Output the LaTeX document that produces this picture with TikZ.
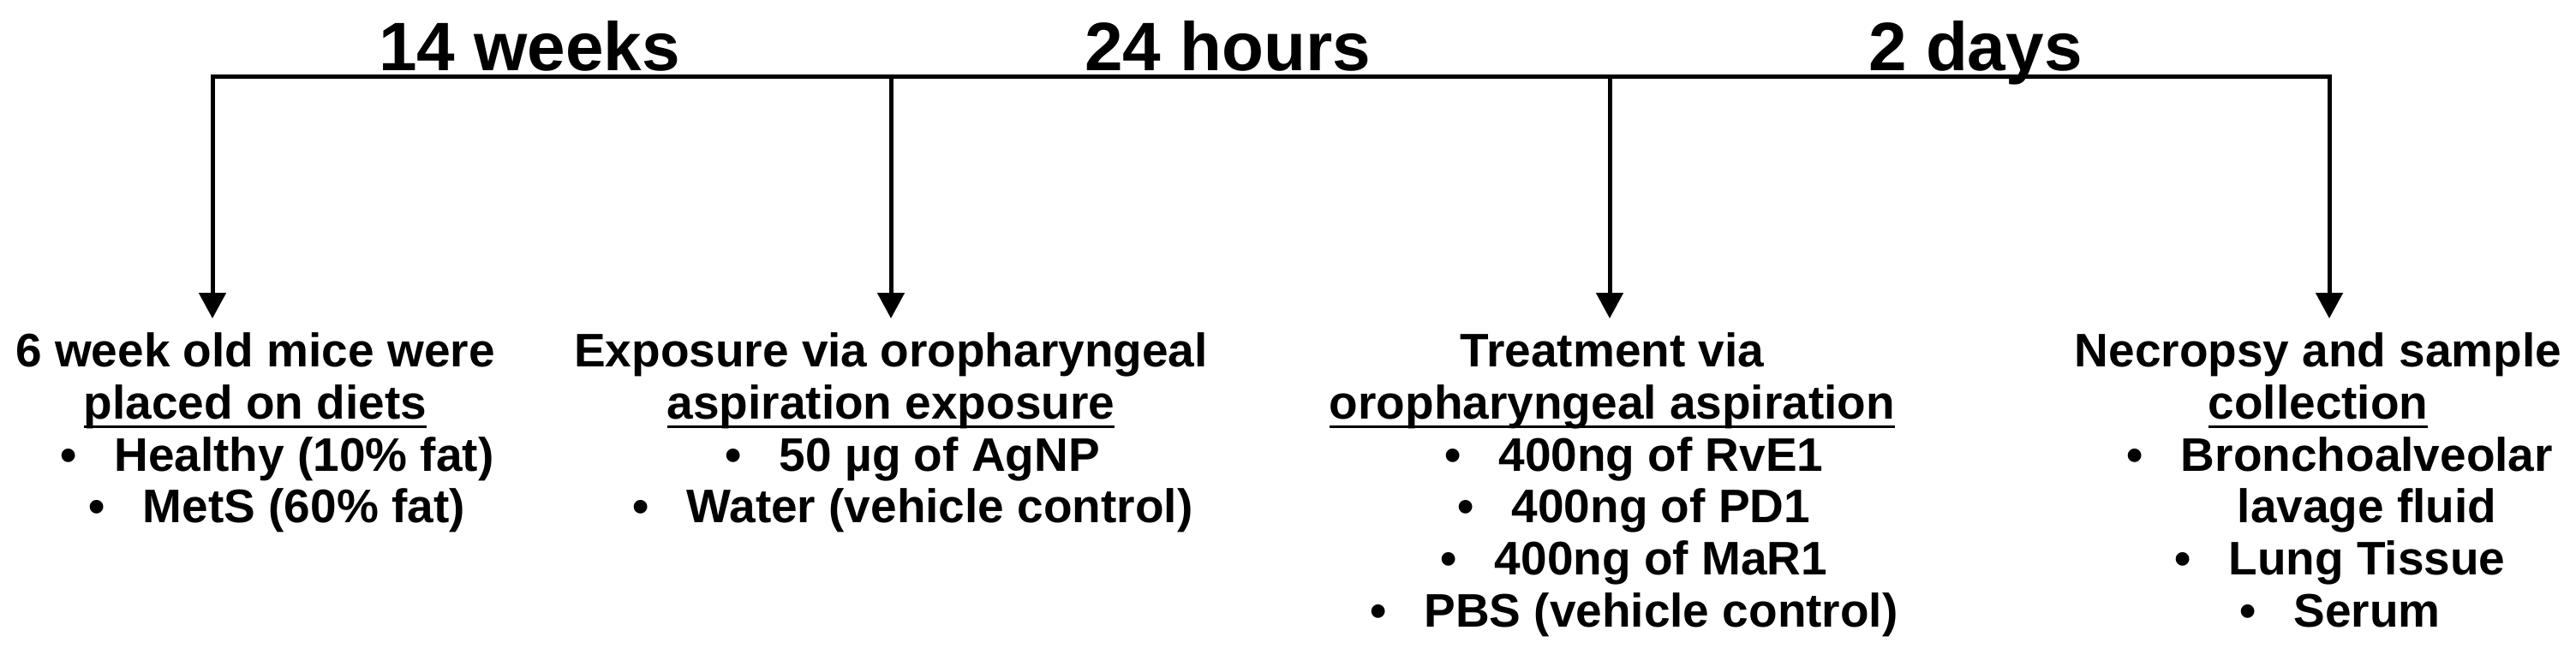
\documentclass[tikz,border=0pt]{standalone}
\usepackage{fontspec}
\setmainfont{Liberation Sans}
\usepackage{tikz}
\usetikzlibrary{arrows.meta}

\newlength{\ulwd}
\newcommand{\uln}[1]{\settowidth{\ulwd}{#1}\rlap{\rule[-0.2em]{\ulwd}{0.06em}}#1}
\newcommand{\bul}[1]{\hspace*{1.14cm}\llap{\textbullet\hspace{0.44cm}}#1}
\newcommand{\cont}[1]{\hspace*{1.14cm}#1}

\begin{document}
\begin{tikzpicture}[
	tline/.style={line width=0.05cm,black},
	tip/.style={-{Triangle[width=0.31cm,length=0.30cm]}},
	period/.style={anchor=base,inner sep=0pt,font=\fontsize{22.8}{26}\selectfont\bfseries},
	block/.style={anchor=north,align=center,inner xsep=0pt,inner ysep=0.16cm,
		font=\fontsize{15.65}{17.3}\selectfont\bfseries}]
	\fill[white] (0,0) rectangle (30.07,-7.85);
	\useasboundingbox (0,0) rectangle (30.07,-7.85);

	% time line
	\coordinate (j1) at (2.48,-0.89);
	\coordinate (j2) at (10.40,-0.89);
	\coordinate (j3) at (18.79,-0.89);
	\coordinate (j4) at (27.19,-0.89);

	\node[period] (wk) at (6.18,-0.82) {14 weeks};
	\node[period] (hr) at (14.33,-0.82) {24 hours};
	\node[period] (dy) at (23.06,-0.82) {2 days};

	% steps
	\node[block] (diet) at (2.98,-3.72) {6 week old mice were\\
		\uln{placed on diets}\\
		\bul{Healthy (10\% fat)}\\
		\bul{MetS (60\% fat)}};
	\node[block] (expo) at (10.40,-3.72) {Exposure via oropharyngeal\\
		\uln{aspiration exposure}\\
		\bul{50 µg of AgNP}\\
		\bul{Water (vehicle control)}};
	\node[block] (treat) at (18.82,-3.72) {Treatment via\\
		\uln{oropharyngeal aspiration}\\
		\bul{400ng of RvE1}\\
		\bul{400ng of PD1}\\
		\bul{400ng of MaR1}\\
		\bul{PBS (vehicle control)}};
	\node[block] (necro) at (27.06,-3.72) {Necropsy and sample\\
		\uln{collection}\\
		\bul{Bronchoalveolar}\\
		\cont{lavage fluid}\\
		\bul{Lung Tissue}\\
		\bul{Serum}};

	\draw[tline,{Triangle[width=0.31cm,length=0.30cm]}-{Triangle[width=0.31cm,length=0.30cm]}]
		(j1 |- diet.north) -- (j1) -- (j4) -- (j4 |- necro.north);
	\draw[tline,tip] (j2) -- (j2 |- expo.north);
	\draw[tline,tip] (j3) -- (j3 |- treat.north);
\end{tikzpicture}
\end{document}
